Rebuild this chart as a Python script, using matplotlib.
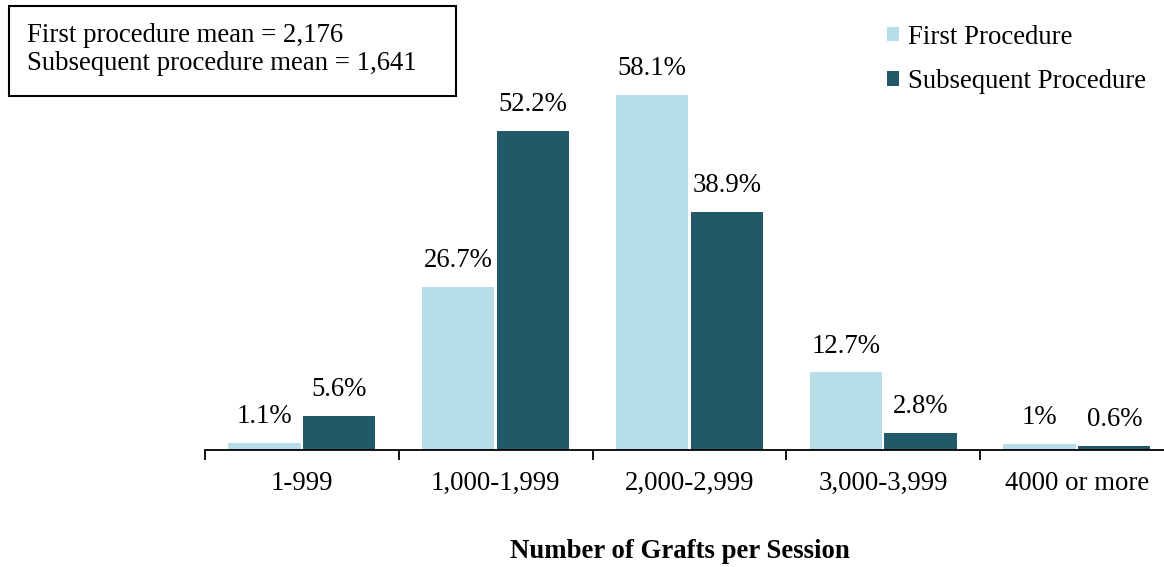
import matplotlib
matplotlib.use("Agg")
import matplotlib.pyplot as plt
from matplotlib.patches import Rectangle
import numpy as np

categories = ["1-999", "1,000-1,999", "2,000-2,999", "3,000-3,999", "4000 or more"]
first = [1.1, 26.7, 58.1, 12.7, 1.0]
subsequent = [5.6, 52.2, 38.9, 2.8, 0.6]
first_labels = ["1.1%", "26.7%", "58.1%", "12.7%", "1%"]
subsequent_labels = ["5.6%", "52.2%", "38.9%", "2.8%", "0.6%"]
series_names = ["First Procedure", "Subsequent Procedure"]
box_lines = ["First procedure mean = 2,176", "Subsequent procedure mean = 1,641"]
xlabel = "Number of Grafts per Session"

c_first = "#B7DDE8"
c_sub = "#215968"
plt.rcParams['font.family'] = ['Liberation Serif', 'DejaVu Serif']

W, H = 1164, 567
fig = plt.figure(figsize=(W/100, H/100), dpi=100)
left_px, right_px, base_px = 205, 205 + 5*193.75, 450
ax = fig.add_axes([left_px/W, (H-base_px)/H, (right_px-left_px)/W, base_px/H])
ax.set_xlim(-0.5, 4.5)
ax.set_ylim(0, 450/6.11)

x = np.arange(len(categories))
w = 0.372
off = 0.193
b1 = ax.bar(x - off, first, w, color=c_first, label=series_names[0])
b2 = ax.bar(x + off, subsequent, w, color=c_sub, label=series_names[1])

fs = 19.3
for rects, labs in ((b1, first_labels), (b2, subsequent_labels)):
    for r, t in zip(rects, labs):
        ax.annotate(t, (r.get_x() + r.get_width()/2, r.get_height()),
                    xytext=(0, 10), textcoords="offset points",
                    ha="center", va="bottom", fontsize=fs)

for s in ("top", "right", "left"):
    ax.spines[s].set_visible(False)
ax.spines["bottom"].set_linewidth(1.3)
ax.set_yticks([])
ax.set_xticks(x)
ax.set_xticklabels(categories, fontsize=fs)
ax.tick_params(axis="x", which="major", length=0, pad=15)
ax.set_xticks(np.arange(-0.5, 4.6, 1.0), minor=True)
ax.tick_params(axis="x", which="minor", length=7, width=1.3, direction="out")

fig.text(680/W, 1 - 551/H, xlabel, ha="center", va="center",
         fontsize=fs, fontweight="bold")

# annotation box
fig.patches.append(Rectangle((9/W, 1 - 96/H), 447/W, 90/H,
                             transform=fig.transFigure, facecolor="white",
                             edgecolor="black", linewidth=1.5))
fig.text(27/W, 1 - 36/H, box_lines[0], ha="left", va="center", fontsize=fs)
fig.text(27/W, 1 - 63/H, box_lines[1], ha="left", va="center", fontsize=fs)

leg = fig.legend(handles=[b1, b2], loc="upper left",
                 bbox_to_anchor=(876/W, 1 - 14/H), frameon=False,
                 fontsize=fs, handlelength=0.45, handleheight=0.45,
                 handletextpad=0.35, labelspacing=0.72, borderaxespad=0)

fig.savefig("out.png", dpi=100)
